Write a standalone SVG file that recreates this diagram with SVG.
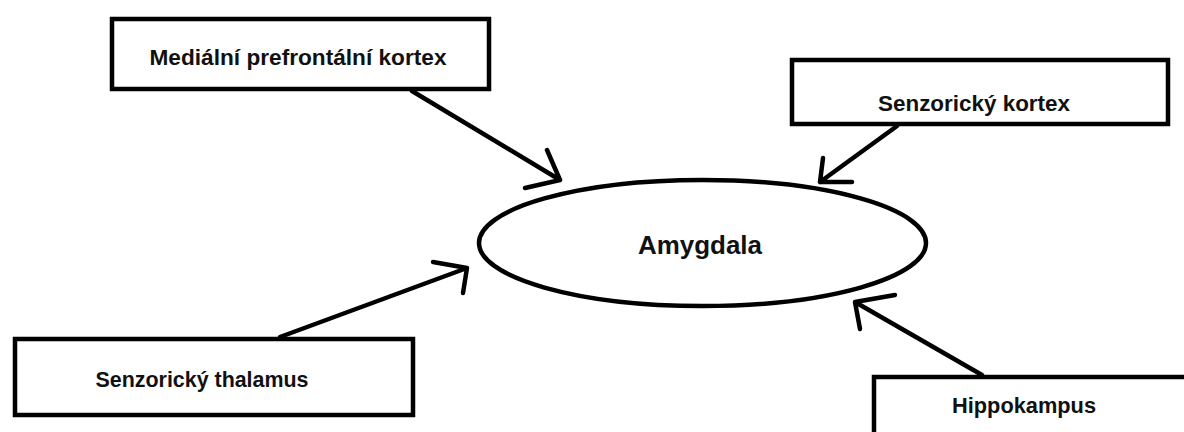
<svg xmlns="http://www.w3.org/2000/svg" width="1184" height="432" viewBox="0 0 1184 432">
  <style>
    .box { fill: #ffffff; stroke: #000000; stroke-width: 4.5; }
    .lbl { font-family: "Liberation Sans", Arial, sans-serif; font-weight: bold; font-size: 22px; fill: #111111; text-anchor: middle; }
    .big { font-size: 26px; }
    .conn { fill: none; stroke: #000000; stroke-width: 4.5; stroke-linecap: round; stroke-linejoin: round; }
  </style>
  <rect width="1184" height="432" fill="#ffffff"/>
  <g id="node-mpfc">
    <rect class="box" x="112" y="19" width="377" height="70"/>
    <text class="lbl" x="298" y="65" textLength="297" lengthAdjust="spacingAndGlyphs">Mediální prefrontální kortex</text>
  </g>
  <g id="node-senzoricky-kortex">
    <rect class="box" x="792" y="60" width="376" height="64"/>
    <text class="lbl" x="974" y="111" textLength="192" lengthAdjust="spacingAndGlyphs">Senzorický kortex</text>
  </g>
  <g id="node-thalamus">
    <rect class="box" x="15" y="339" width="398" height="76"/>
    <text class="lbl" x="202" y="387" textLength="213" lengthAdjust="spacingAndGlyphs">Senzorický thalamus</text>
  </g>
  <g id="node-hippokampus">
    <rect class="box" x="874" y="377" width="330" height="80"/>
    <text class="lbl" x="1024" y="413" textLength="144" lengthAdjust="spacingAndGlyphs">Hippokampus</text>
  </g>
  <g id="node-amygdala">
    <ellipse class="box" cx="702.5" cy="243" rx="223.5" ry="63"/>
    <text class="lbl big" x="700" y="254" textLength="124" lengthAdjust="spacingAndGlyphs">Amygdala</text>
  </g>
  <g id="connectors">
    <path class="conn" d="M412 91 L560 180 M547 150 L560 180 L525 188"/>
    <path class="conn" d="M897 126 L820 182 M823 158 L820 182 L852 182"/>
    <path class="conn" d="M280 337 L467 268 M433 262 L467 268 L463 293"/>
    <path class="conn" d="M982 375 L855 302 M895 295 L855 302 L860 329"/>
  </g>
</svg>
